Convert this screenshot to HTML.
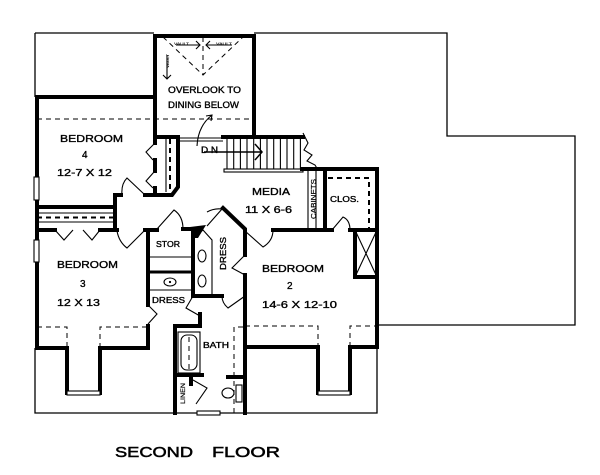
<!DOCTYPE html>
<html><head><meta charset="utf-8"><style>
html,body{margin:0;padding:0;background:#fff;}
svg{display:block;}
text{font-family:"Liberation Sans",sans-serif;fill:#000;}
</style></head><body>
<svg width="600" height="475" viewBox="0 0 600 475" xmlns="http://www.w3.org/2000/svg">
<rect width="600" height="475" fill="#fff"/>
<!-- thin outer outline -->
<g fill="none" stroke="#000" stroke-width="1.3">
<path d="M35,33 L154,33 M254,33 L447,33 L447,136 L575,136 L575,325 L377,325"/>
<path d="M35,33 L35,97"/>
<path d="M35,348 L35,413 L377,413 L377,347"/>
</g>
<!-- thick walls -->
<g fill="none" stroke="#000" stroke-width="4" stroke-linecap="square" stroke-linejoin="miter">
<path d="M155,137 L155,36 L254,36 L254,137"/>
<path d="M37,97 L155,97"/>
<path d="M37,97 L37,177 M37,200 L37,240 M37,262 L37,348 L67,348 L67,393 M100,393 L100,348 L148,348 L148,326"/>
<path d="M37,207 L115,207 M121,195 L115,195 L115,230"/>
<path d="M37,230 L55,230 M100,230 L117,230"/>
<path d="M145,230 L157,230 M183,229 L193,229"/>
<path d="M148,230 L148,305"/>
<path d="M193,229 L193,296 L222,296"/>
<path d="M223,208 L245,229 L245,255 M245,275 L245,413"/>
<path d="M175,326 L175,413 M175,326 L200,326 L200,314"/>
<path d="M175,375 L202,375 M191,375 L191,384 M228,377 L245,377"/>
<path d="M245,347 L318,347 L318,393 M350,393 L350,347 L377,347 L377,169 L302,169"/>
<path d="M273,230 L332,230 M350,230 L377,230"/>
<path d="M325,169 L325,230"/>
<path d="M355,230 L355,277 L377,277"/>
<path d="M223,137 L303,137"/>
<path d="M155,137 L178,137 L178,187 L172,195 L145,195"/>
<path d="M155,137 L155,143 M155,160 L155,171 M155,188 L155,195"/>
</g>
<g fill="none" stroke="#000" stroke-width="3">
<path d="M148,272 L193,272"/>
</g>
<polygon points="190,227 206,225 198,238 193,238" fill="#000"/>
<!-- thin details -->
<g fill="none" stroke="#000" stroke-width="1.1">
<rect x="34" y="177" width="5" height="23" fill="#fff"/>
<rect x="34" y="240" width="5" height="22" fill="#fff"/>
<rect x="67" y="391" width="33" height="4" fill="#fff"/>
<rect x="318" y="391" width="32" height="4" fill="#fff"/>
<rect x="197" y="411" width="23" height="4" fill="#fff"/>
<path d="M37,213 L115,213 M37,222 L115,222"/>
<path d="M166,139 L166,192"/>
<path d="M154,144 L146,152 L153,160 M154,172 L146,181 L153,188"/>
<path d="M145,195 L127,178 Q121,184 122,195"/>
<path d="M55,230 L64,240 L73,230 M83,230 L92,240 L100,230"/>
<path d="M145,230 L127,248 Q119,242 117,231"/>
<path d="M157,229 L174,210 Q183,216 183,229"/>
<path d="M148,257 L193,257 M148,290 L193,290"/>
<ellipse cx="170" cy="282" rx="6" ry="4"/>
<ellipse cx="170" cy="282" rx="0.6" ry="0.6"/>
<path d="M148,305 L157,314 L148,324 M193,296 L186,308 L200,316"/>
<path d="M193,238 L203,230 L212,240 L212,294"/>
<ellipse cx="202" cy="256" rx="4" ry="6"/>
<ellipse cx="202" cy="281" rx="4" ry="6"/>
<path d="M207,226 L222,209 Q214,208 207,212"/>
<path d="M245,255 L232,268 L245,275"/>
<path d="M245,296 L228,308 Q222,303 222,296"/>
<path d="M245,231 L263,247 Q273,241 273,230"/>
<path d="M332,230 L343,217 Q350,220 350,230"/>
<path d="M355,230 L377,277 M377,230 L355,277"/>
<path d="M308,170 L308,230 M316,170 L316,230"/>
<path d="M178,138 L223,138 M178,141 L223,141"/>
<rect x="224" y="169" width="79" height="3"/>
<path d="M227,138 V169 M233.7,138 V169 M240.4,138 V169 M247,138 V169 M253.7,138 V169 M260.4,138 V169 M267,138 V169 M273.7,138 V169 M280.4,138 V169 M287,138 V169 M293.7,138 V169 M300.4,138 V169"/>
<path d="M303,133 L308,143 L304,150 L312,155 L307,161 L315,165 L318,170"/>
<path d="M204,152 L262,152 M255,144 L262,152 L255,160" stroke-width="1.5"/>
<path d="M197,146 Q198,126 212,115 M206,116 L212,115 L211,121"/>
<rect x="178" y="332" width="22" height="41"/>
<rect x="181" y="335" width="16" height="35" rx="6"/>
<path d="M193,380 L207,388 L196,404"/>
<ellipse cx="228" cy="393" rx="6" ry="5"/>
<rect x="236" y="385" width="6" height="17"/>
<path d="M176,45 L200,45 M196,41 L200,45 L196,49"/>
<path d="M232,45 L206,45 M210,41 L206,45 L210,49"/>
<path d="M167,55 L167,79 M163,75 L167,79 L171,75"/>
</g>
<!-- dashed lines -->
<g fill="none" stroke="#000" stroke-width="1" stroke-dasharray="5,4">
<path d="M37,119 L254,119"/>
<path d="M163,37 L203,75 L243,37 M203,37 L203,75"/>
<path d="M37,217.5 L115,217.5" stroke-width="2"/>
<path d="M170,139 L170,192" stroke-width="2"/>
<path d="M328,178 L369,178 L369,228" stroke-width="2"/>
<path d="M37,327 L67,327 L67,348 M100,348 L100,327 L148,327"/>
<path d="M245,326 L318,326 L318,347 M350,347 L350,326 L377,326"/>
<path d="M234,413 L234,327 L245,327"/>
<path d="M189,337 L189,370"/>
</g>
<!-- labels -->
<g font-size="10" stroke="#000" stroke-width="0.35">
<text x="60" y="142" textLength="63" lengthAdjust="spacingAndGlyphs">BEDROOM</text>
<text x="82" y="158">4</text>
<text x="57" y="176" textLength="55" lengthAdjust="spacingAndGlyphs">12-7 X 12</text>
<text x="168" y="93" textLength="73" lengthAdjust="spacingAndGlyphs" font-size="9">OVERLOOK TO</text>
<text x="168" y="108" textLength="71" lengthAdjust="spacingAndGlyphs" font-size="9">DINING BELOW</text>
<text x="201" y="153" textLength="17" lengthAdjust="spacingAndGlyphs" font-size="9">D N</text>
<text x="252" y="195" textLength="38" lengthAdjust="spacingAndGlyphs">MEDIA</text>
<text x="245" y="213" textLength="47" lengthAdjust="spacingAndGlyphs">11 X 6-6</text>
<text x="330" y="202" textLength="29" lengthAdjust="spacingAndGlyphs" font-size="8">CLOS.</text>
<text x="262" y="272" textLength="62" lengthAdjust="spacingAndGlyphs">BEDROOM</text>
<text x="287" y="289">2</text>
<text x="262" y="308" textLength="75" lengthAdjust="spacingAndGlyphs">14-6 X 12-10</text>
<text x="57" y="268" textLength="61" lengthAdjust="spacingAndGlyphs">BEDROOM</text>
<text x="80" y="287">3</text>
<text x="57" y="306" textLength="43" lengthAdjust="spacingAndGlyphs">12 X 13</text>
<text x="156" y="247" textLength="24" lengthAdjust="spacingAndGlyphs" font-size="8">STOR</text>
<text x="152" y="303" textLength="33" lengthAdjust="spacingAndGlyphs" font-size="8">DRESS</text>
<text x="203" y="348" textLength="26" lengthAdjust="spacingAndGlyphs" font-size="8">BATH</text>
<text transform="translate(226,270) rotate(-90)" textLength="33" lengthAdjust="spacingAndGlyphs" font-size="8">DRESS</text>
<text transform="translate(316,219) rotate(-90)" textLength="40" lengthAdjust="spacingAndGlyphs" font-size="7" stroke-width="0.2">CABINETS</text>
<text transform="translate(185,404) rotate(-90)" textLength="21" lengthAdjust="spacingAndGlyphs" font-size="6" stroke-width="0.2">LINEN</text>
<text x="174" y="45" textLength="15" lengthAdjust="spacingAndGlyphs" font-size="4" stroke-width="0.1">VAULT</text>
<text x="216" y="45" textLength="16" lengthAdjust="spacingAndGlyphs" font-size="4" stroke-width="0.1">VAULT</text>
<text transform="translate(169,68) rotate(-90)" textLength="14" lengthAdjust="spacingAndGlyphs" font-size="4" stroke-width="0.1">VAULT</text>
<text x="115" y="457" textLength="78" lengthAdjust="spacingAndGlyphs" font-size="15" stroke-width="0.5">SECOND</text>
<text x="212" y="457" textLength="68" lengthAdjust="spacingAndGlyphs" font-size="15" stroke-width="0.5">FLOOR</text>
</g>
</svg>
</body></html>
